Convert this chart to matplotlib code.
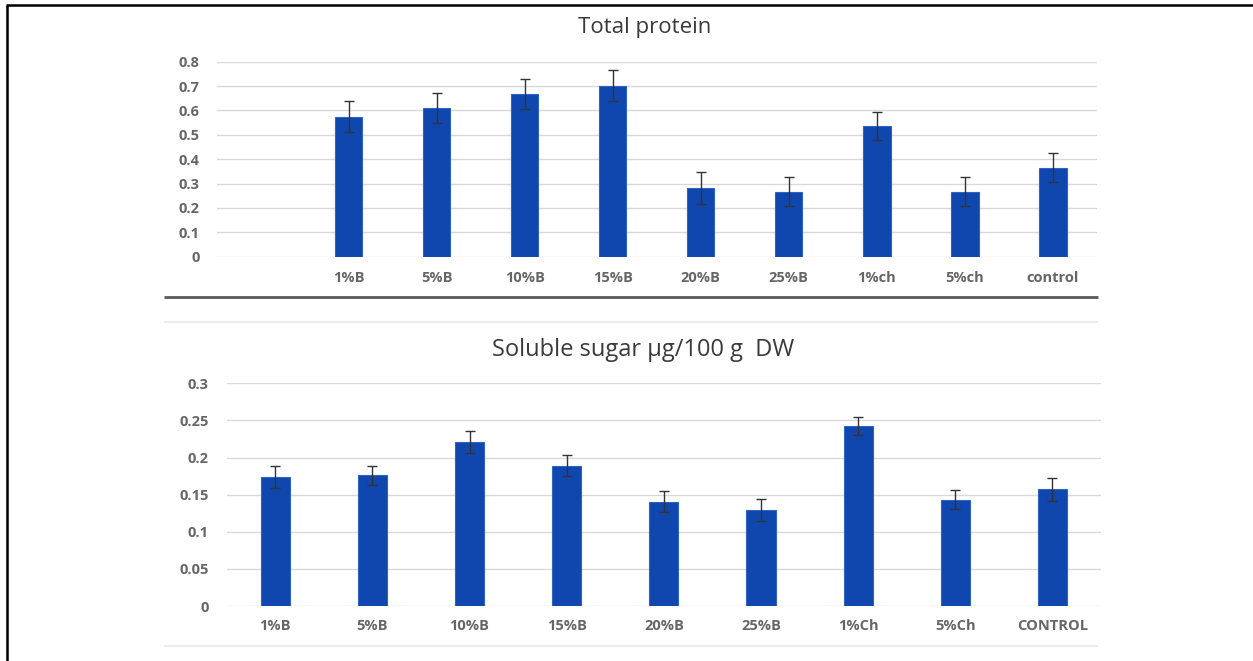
import matplotlib
matplotlib.use("Agg")
import matplotlib.pyplot as plt
from matplotlib.lines import Line2D

plt.rcParams['font.family'] = ['Open Sans', 'DejaVu Sans']

# ---- data: Total protein ----
protein_labels = ["", "1%B", "5%B", "10%B", "15%B", "20%B", "25%B", "1%ch", "5%ch", "control"]
protein_values = [float('nan'), 0.574, 0.611, 0.667, 0.702, 0.283, 0.267, 0.536, 0.267, 0.365]
protein_errors = [float('nan'), 0.064, 0.062, 0.062, 0.063, 0.066, 0.060, 0.059, 0.060, 0.060]
protein_yticks = [0, 0.1, 0.2, 0.3, 0.4, 0.5, 0.6, 0.7, 0.8]
protein_ytick_labels = ["0", "0.1", "0.2", "0.3", "0.4", "0.5", "0.6", "0.7", "0.8"]

# ---- data: Soluble sugar ----
sugar_labels = ["1%B", "5%B", "10%B", "15%B", "20%B", "25%B", "1%Ch", "5%Ch", "CONTROL"]
sugar_values = [0.174, 0.176, 0.221, 0.189, 0.1405, 0.129, 0.2425, 0.143, 0.157]
sugar_errors = [0.015, 0.013, 0.015, 0.014, 0.0145, 0.015, 0.0125, 0.013, 0.015]
sugar_yticks = [0, 0.05, 0.1, 0.15, 0.2, 0.25, 0.3]
sugar_ytick_labels = ["0", "0.05", "0.1", "0.15", "0.2", "0.25", "0.3"]

W, H = 1253, 661
fig = plt.figure(figsize=(W / 100, H / 100), dpi=100)

BAR = '#0F47AE'
EDGE = '#2F63C4'
GRID = '#D9D9D9'
TICKC = '#666666'
TITLEC = '#3A3A3A'


def px_axes(left, right, top, bottom):
    return fig.add_axes([left / W, 1 - bottom / H, (right - left) / W, (bottom - top) / H])


def style(ax, ypad, xpad, size):
    for s in ax.spines.values():
        s.set_visible(False)
    ax.tick_params(axis='both', length=0, colors=TICKC, labelsize=size)
    ax.tick_params(axis='y', pad=ypad)
    ax.tick_params(axis='x', pad=xpad)
    ax.yaxis.grid(True, color=GRID, linewidth=1.0)
    ax.set_axisbelow(True)
    for t in ax.get_xticklabels() + ax.get_yticklabels():
        t.set_fontweight('bold')


# ---- top chart ----
ax1 = px_axes(216.5, 1097, 61.7, 256.7)
x1 = list(range(len(protein_labels)))
ax1.bar(x1, protein_values, width=0.31, color=BAR, edgecolor=EDGE, linewidth=0.8,
        yerr=protein_errors, error_kw=dict(ecolor='#333333', elinewidth=1.0, capsize=3.5, capthick=1.0))
ax1.set_xlim(-0.5, len(protein_labels) - 0.5)
ax1.set_ylim(0, 0.8)
ax1.set_yticks(protein_yticks)
ax1.set_yticklabels(protein_ytick_labels)
ax1.set_xticks(x1)
ax1.set_xticklabels(protein_labels)
style(ax1, 12.0, 10, 10.5)

# ---- bottom chart ----
ax2 = px_axes(226.7, 1101, 383.3, 606)
x2 = list(range(len(sugar_labels)))
ax2.bar(x2, sugar_values, width=0.30, color=BAR, edgecolor=EDGE, linewidth=0.8,
        yerr=sugar_errors, error_kw=dict(ecolor='#333333', elinewidth=1.0, capsize=3.5, capthick=1.0))
ax2.set_xlim(-0.5, len(sugar_labels) - 0.5)
ax2.set_ylim(0, 0.3)
ax2.set_yticks(sugar_yticks)
ax2.set_yticklabels(sugar_ytick_labels)
ax2.set_xticks(x2)
ax2.set_xticklabels(sugar_labels)
style(ax2, 13.0, 9.5, 10.5)

# ---- titles ----
fig.text(645 / W, 1 - 28 / H, "Total protein", ha='center', va='center',
         fontsize=16, color=TITLEC)
fig.text(643 / W, 1 - 350 / H, "Soluble sugar \u03bcg/100 g  DW", ha='center', va='center',
         fontsize=17, color=TITLEC)

# ---- decorative lines ----
def hline(y, x0, x1, color, lw):
    fig.add_artist(Line2D([x0 / W, x1 / W], [1 - y / H, 1 - y / H], color=color, linewidth=lw,
                          transform=fig.transFigure, solid_capstyle='butt'))


hline(296.7, 164, 1098, '#5A5A5A', 2.0)
hline(321.7, 164, 1098, '#EBEBEB', 1.3)
hline(646, 164, 1098, '#EBEBEB', 1.3)

# border (top + left)
hline(5, 6, W, 'black', 1.8)
fig.add_artist(Line2D([7 / W, 7 / W], [1 - 5 / H, 0], color='black', linewidth=1.8,
                      transform=fig.transFigure, solid_capstyle='butt'))

fig.savefig("out.png", dpi=100)
